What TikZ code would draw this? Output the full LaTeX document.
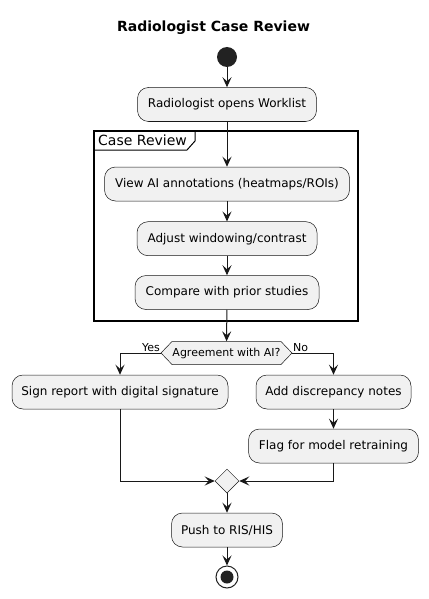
\documentclass[tikz,border=0pt]{standalone}
\usepackage{fontspec}
\setmainfont{DejaVu Sans}
\usetikzlibrary{arrows.meta,shapes.geometric,positioning}
\definecolor{umlline}{HTML}{181818}
\definecolor{umlfill}{HTML}{F1F1F1}
\definecolor{umldot}{HTML}{222222}
\tikzset{
  action/.style={draw=umlline,fill=umlfill,line width=0.5pt,rounded corners=11pt,
    minimum height=34pt,inner xsep=4pt,font=\fontsize{12}{14}\selectfont},
  hexpath/.style={draw=umlline,fill=umlfill,line width=0.5pt},
  guard/.style={inner sep=1pt,font=\fontsize{11}{13}\selectfont},
  flow/.style={umlline,line width=1pt,-{Stealth[length=10pt,width=9pt,inset=4pt]}},
}

\begin{document}
\begin{tikzpicture}[x=1pt,y=-1pt]
  \useasboundingbox[fill=white] (0,0) rectangle (428,599);
  \node[font=\bfseries\fontsize{14}{16}\selectfont] (title) at (213.5,28) {Radiologist Case Review};
  \node[circle,fill=umldot,minimum size=20pt,inner sep=0pt] (start) at (227,57) {};
  \node[action,minimum width=179pt] (opens) at (227,104.5) {Radiologist opens Worklist};

  \draw[black,line width=1.5pt] (94,131) rectangle (358,321);
  \draw[black,line width=1pt] (94,150) -- (187,150) -- (195,141) -- (195,131);
  \node[anchor=west,font=\fontsize{14}{16}\selectfont,inner sep=0pt] (frame) at (98,140) {Case Review};

  \node[action,minimum width=245pt] (viewai) at (227,184) {View AI annotations (heatmaps/ROIs)};
  \node[action,minimum width=180pt] (adjust) at (227,238.7) {Adjust windowing/contrast};
  \node[action,minimum width=184pt] (compare) at (227,292.5) {Compare with prior studies};

  \coordinate (agreeW) at (161,353);
  \coordinate (agreeE) at (292,353);
  \draw[hexpath] (agreeW) -- ++(11,-11.5) -- ++(109,0) -- (agreeE)
    -- ++(-11,11.5) -- ++(-109,0) -- cycle;
  \node[font=\fontsize{11}{13}\selectfont,minimum width=109pt,minimum height=23pt,inner sep=0pt] (agree) at (226.5,353) {Agreement with AI?};
  \node[guard,anchor=south east] (yes) at (agreeW) {Yes};
  \node[guard,anchor=south west] (no) at (agreeE) {No};

  \node[action,minimum width=216pt] (sign) at (120,392) {Sign report with digital signature};
  \node[action,minimum width=155pt] (discrep) at (333.5,392) {Add discrepancy notes};
  \node[action,minimum width=170pt] (retrain) at (333.5,446) {Flag for model retraining};
  \node[diamond,draw=umlline,fill=umlfill,line width=0.5pt,minimum size=24pt,inner sep=0pt] (merge) at (227,481) {};
  \node[action,minimum width=111pt] (push) at (227,530) {Push to RIS/HIS};
  \node[circle,draw=umldot,fill=white,line width=1pt,minimum size=22pt,inner sep=0pt] (stop) at (227,577) {};
  \fill[umldot] (stop.center) circle (6.5pt);

  \draw[flow] (start) -- (opens);
  \draw[flow] (opens) -- (viewai);
  \draw[flow] (viewai) -- (adjust);
  \draw[flow] (adjust) -- (compare);
  \draw[flow] (compare) -- (agree);
  \draw[flow] (agreeW) -| (sign);
  \draw[flow] (agreeE) -| (discrep);
  \draw[flow] (discrep) -- (retrain);
  \draw[flow] (sign) |- (merge);
  \draw[flow] (retrain) |- (merge);
  \draw[flow] (merge) -- (push);
  \draw[flow] (push) -- (stop);
\end{tikzpicture}
\end{document}
